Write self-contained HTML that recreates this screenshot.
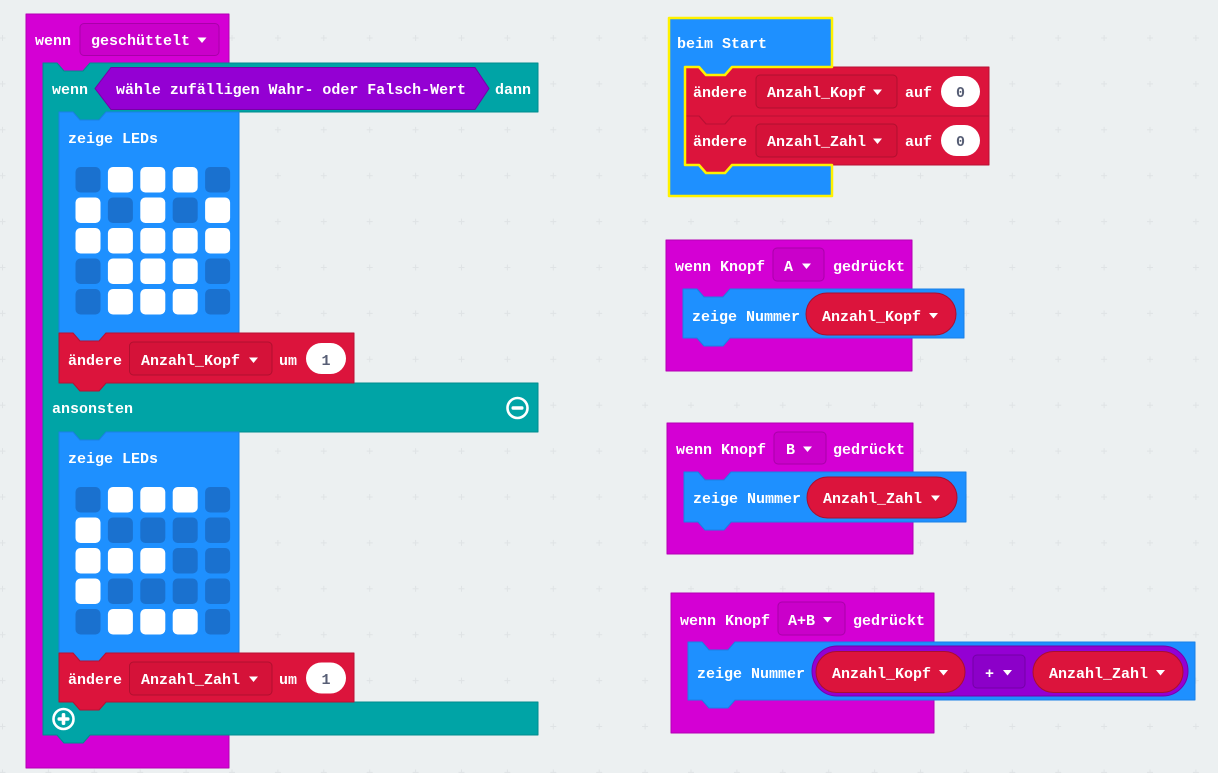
<!DOCTYPE html>
<html><head><meta charset="utf-8"><style>
html,body{margin:0;padding:0;background:#ecf0f1;}
svg{display:block;}
text{font-family:"Liberation Mono",monospace;font-weight:bold;font-size:15px;fill:#fff;}
.d{fill:#575e75;}
</style></head><body>
<svg width="1218" height="773" viewBox="0 0 1218 773" xmlns="http://www.w3.org/2000/svg">
<defs>
<pattern id="g" x="-20.45" y="15.05" width="45.9" height="45.9" patternUnits="userSpaceOnUse">
<path d="M19.95,22.95h6M22.95,19.95v6" stroke="#dfe3e5" stroke-width="1" fill="none"/>
</pattern>
</defs>
<rect width="1218" height="773" fill="#ecf0f1"/>
<rect width="1218" height="773" fill="url(#g)"/>

<!-- ===== LEFT: wenn geschüttelt ===== -->
<path d="M26,14 H229 V63 H90 L83,71 H64 L57,63 H43 V735 H57 L64,743 H83 L90,735 H229 V768 H26 Z" fill="#d400d4" stroke="#b300b3" stroke-width="1" stroke-linejoin="round"/>
<text x="35" y="45">wenn</text>
<rect x="80" y="23.5" width="139" height="32" rx="4" fill="#ca00ca" stroke="#a900a9" stroke-width="1"/>
<text x="91" y="45">geschüttelt</text>
<polygon points="197.5,37.5 206.5,37.5 202,43" fill="#fff"/>

<!-- teal if/else -->
<path d="M43,63 H57 L64,71 H83 L90,63 H538 V112 H106 L99,120 H80 L73,112 H59 V383 H73 L80,391 H99 L106,383 H538 V432 H106 L99,440 H80 L73,432 H59 V702 H73 L80,710 H99 L106,702 H538 V735 H90 L83,743 H64 L57,735 H43 Z" fill="#00a4a6" stroke="#008d8f" stroke-width="1" stroke-linejoin="round"/>
<text x="52" y="94">wenn</text>
<polygon points="95,88.5 111,67.5 475,67.5 489,88.5 475,109.5 111,109.5" fill="#9400d3" stroke="#7500a8" stroke-width="1"/>
<text x="116" y="94" textLength="350" lengthAdjust="spacingAndGlyphs">wähle zufälligen Wahr- oder Falsch-Wert</text>
<text x="495" y="94">dann</text>
<text x="52" y="413">ansonsten</text>
<circle cx="517.5" cy="408" r="10" fill="none" stroke="#fff" stroke-width="2.6"/>
<rect x="511.5" y="406.2" width="12" height="3.6" rx="1.5" fill="#fff"/>
<circle cx="63.5" cy="719" r="10" fill="none" stroke="#fff" stroke-width="2.6"/>
<rect x="57.5" y="717.2" width="12" height="3.6" rx="1.5" fill="#fff"/>
<rect x="61.7" y="713" width="3.6" height="12" rx="1.5" fill="#fff"/>

<!-- blue 1 -->
<path d="M59,112 H73 L80,120 H99 L106,112 H239 V333 H106 L99,341 H80 L73,333 H59 Z" fill="#1e90ff" stroke="#1a80e6" stroke-width="1" stroke-linejoin="round"/>
<text x="68" y="143">zeige LEDs</text>
<g>
<rect x="75.5" y="167" width="25" height="25.5" rx="5" fill="#1a71cf"/>
<rect x="107.9" y="167" width="25" height="25.5" rx="5" fill="#fff"/>
<rect x="140.3" y="167" width="25" height="25.5" rx="5" fill="#fff"/>
<rect x="172.7" y="167" width="25" height="25.5" rx="5" fill="#fff"/>
<rect x="205.1" y="167" width="25" height="25.5" rx="5" fill="#1a71cf"/>

<rect x="75.5" y="197.5" width="25" height="25.5" rx="5" fill="#fff"/>
<rect x="107.9" y="197.5" width="25" height="25.5" rx="5" fill="#1a71cf"/>
<rect x="140.3" y="197.5" width="25" height="25.5" rx="5" fill="#fff"/>
<rect x="172.7" y="197.5" width="25" height="25.5" rx="5" fill="#1a71cf"/>
<rect x="205.1" y="197.5" width="25" height="25.5" rx="5" fill="#fff"/>

<rect x="75.5" y="228" width="25" height="25.5" rx="5" fill="#fff"/>
<rect x="107.9" y="228" width="25" height="25.5" rx="5" fill="#fff"/>
<rect x="140.3" y="228" width="25" height="25.5" rx="5" fill="#fff"/>
<rect x="172.7" y="228" width="25" height="25.5" rx="5" fill="#fff"/>
<rect x="205.1" y="228" width="25" height="25.5" rx="5" fill="#fff"/>

<rect x="75.5" y="258.5" width="25" height="25.5" rx="5" fill="#1a71cf"/>
<rect x="107.9" y="258.5" width="25" height="25.5" rx="5" fill="#fff"/>
<rect x="140.3" y="258.5" width="25" height="25.5" rx="5" fill="#fff"/>
<rect x="172.7" y="258.5" width="25" height="25.5" rx="5" fill="#fff"/>
<rect x="205.1" y="258.5" width="25" height="25.5" rx="5" fill="#1a71cf"/>

<rect x="75.5" y="289" width="25" height="25.5" rx="5" fill="#1a71cf"/>
<rect x="107.9" y="289" width="25" height="25.5" rx="5" fill="#fff"/>
<rect x="140.3" y="289" width="25" height="25.5" rx="5" fill="#fff"/>
<rect x="172.7" y="289" width="25" height="25.5" rx="5" fill="#fff"/>
<rect x="205.1" y="289" width="25" height="25.5" rx="5" fill="#1a71cf"/>
</g>

<!-- red 1 -->
<path d="M59,333 H73 L80,341 H99 L106,333 H354 V383 H106 L99,391 H80 L73,383 H59 Z" fill="#dc143c" stroke="#b81033" stroke-width="1" stroke-linejoin="round"/>
<text x="68" y="365">ändere</text>
<rect x="129.5" y="342" width="142.5" height="33" rx="4" fill="#d51239" stroke="#b0102f" stroke-width="1"/>
<text x="141" y="365">Anzahl_Kopf</text>
<polygon points="249,357.5 258,357.5 253.5,363" fill="#fff"/>
<text x="279" y="365">um</text>
<rect x="306" y="343" width="40" height="31" rx="15.5" fill="#fff"/>
<text class="d" x="326" y="365" text-anchor="middle">1</text>

<!-- blue 2 -->
<path d="M59,432 H73 L80,440 H99 L106,432 H239 V653 H106 L99,661 H80 L73,653 H59 Z" fill="#1e90ff" stroke="#1a80e6" stroke-width="1" stroke-linejoin="round"/>
<text x="68" y="463">zeige LEDs</text>
<g>
<rect x="75.5" y="487" width="25" height="25.5" rx="5" fill="#1a71cf"/>
<rect x="107.9" y="487" width="25" height="25.5" rx="5" fill="#fff"/>
<rect x="140.3" y="487" width="25" height="25.5" rx="5" fill="#fff"/>
<rect x="172.7" y="487" width="25" height="25.5" rx="5" fill="#fff"/>
<rect x="205.1" y="487" width="25" height="25.5" rx="5" fill="#1a71cf"/>

<rect x="75.5" y="517.5" width="25" height="25.5" rx="5" fill="#fff"/>
<rect x="107.9" y="517.5" width="25" height="25.5" rx="5" fill="#1a71cf"/>
<rect x="140.3" y="517.5" width="25" height="25.5" rx="5" fill="#1a71cf"/>
<rect x="172.7" y="517.5" width="25" height="25.5" rx="5" fill="#1a71cf"/>
<rect x="205.1" y="517.5" width="25" height="25.5" rx="5" fill="#1a71cf"/>

<rect x="75.5" y="548" width="25" height="25.5" rx="5" fill="#fff"/>
<rect x="107.9" y="548" width="25" height="25.5" rx="5" fill="#fff"/>
<rect x="140.3" y="548" width="25" height="25.5" rx="5" fill="#fff"/>
<rect x="172.7" y="548" width="25" height="25.5" rx="5" fill="#1a71cf"/>
<rect x="205.1" y="548" width="25" height="25.5" rx="5" fill="#1a71cf"/>

<rect x="75.5" y="578.5" width="25" height="25.5" rx="5" fill="#fff"/>
<rect x="107.9" y="578.5" width="25" height="25.5" rx="5" fill="#1a71cf"/>
<rect x="140.3" y="578.5" width="25" height="25.5" rx="5" fill="#1a71cf"/>
<rect x="172.7" y="578.5" width="25" height="25.5" rx="5" fill="#1a71cf"/>
<rect x="205.1" y="578.5" width="25" height="25.5" rx="5" fill="#1a71cf"/>

<rect x="75.5" y="609" width="25" height="25.5" rx="5" fill="#1a71cf"/>
<rect x="107.9" y="609" width="25" height="25.5" rx="5" fill="#fff"/>
<rect x="140.3" y="609" width="25" height="25.5" rx="5" fill="#fff"/>
<rect x="172.7" y="609" width="25" height="25.5" rx="5" fill="#fff"/>
<rect x="205.1" y="609" width="25" height="25.5" rx="5" fill="#1a71cf"/>
</g>

<!-- red 2 -->
<path d="M59,653 H73 L80,661 H99 L106,653 H354 V702 H106 L99,710 H80 L73,702 H59 Z" fill="#dc143c" stroke="#b81033" stroke-width="1" stroke-linejoin="round"/>
<text x="68" y="684">ändere</text>
<rect x="129.5" y="662" width="142.5" height="33" rx="4" fill="#d51239" stroke="#b0102f" stroke-width="1"/>
<text x="141" y="684">Anzahl_Zahl</text>
<polygon points="249,676.5 258,676.5 253.5,682" fill="#fff"/>
<text x="279" y="684">um</text>
<rect x="306" y="662.5" width="40" height="31" rx="15.5" fill="#fff"/>
<text class="d" x="326" y="684" text-anchor="middle">1</text>

<!-- ===== beim Start ===== -->
<path d="M669,18 H832 V67 H732 L725,75 H706 L699,67 H685 V165 H699 L706,173 H725 L732,165 H832 V196 H669 Z" fill="#1e90ff" stroke="none"/>
<text x="677" y="48">beim Start</text>
<path d="M685,67 H699 L706,75 H725 L732,67 H989 V116 H732 L725,124 H706 L699,116 H685 Z" fill="#dc143c" stroke="#b81033" stroke-width="1" stroke-linejoin="round"/>
<path d="M685,116 H699 L706,124 H725 L732,116 H989 V165 H732 L725,173 H706 L699,165 H685 Z" fill="#dc143c" stroke="#b81033" stroke-width="1" stroke-linejoin="round"/>
<path d="M669,18 H832 V67 H732 L725,75 H706 L699,67 H685 V165 H699 L706,173 H725 L732,165 H832 V196 H669 Z" fill="none" stroke="#fff200" stroke-width="2.5" stroke-linejoin="round"/>
<text x="693" y="97">ändere</text>
<rect x="756" y="75" width="141" height="33" rx="4" fill="#d51239" stroke="#b0102f" stroke-width="1"/>
<text x="767" y="97">Anzahl_Kopf</text>
<polygon points="873,89.5 882,89.5 877.5,95" fill="#fff"/>
<text x="905" y="97">auf</text>
<rect x="941" y="76" width="39" height="31" rx="15.5" fill="#fff"/>
<text class="d" x="960.5" y="97" text-anchor="middle">0</text>
<text x="693" y="146">ändere</text>
<rect x="756" y="124" width="141" height="33" rx="4" fill="#d51239" stroke="#b0102f" stroke-width="1"/>
<text x="767" y="146">Anzahl_Zahl</text>
<polygon points="873,138.5 882,138.5 877.5,144" fill="#fff"/>
<text x="905" y="146">auf</text>
<rect x="941" y="125" width="39" height="31" rx="15.5" fill="#fff"/>
<text class="d" x="960.5" y="146" text-anchor="middle">0</text>

<!-- ===== Knopf A ===== -->
<path d="M666,240 H912 V289 H730 L723,297 H704 L697,289 H683 V338 H697 L704,346 H723 L730,338 H912 V371 H666 Z" fill="#d400d4" stroke="#b300b3" stroke-width="1" stroke-linejoin="round"/>
<text x="675" y="271">wenn Knopf</text>
<rect x="773" y="248" width="51" height="33" rx="4" fill="#ca00ca" stroke="#a900a9" stroke-width="1"/>
<text x="784" y="271">A</text>
<polygon points="802,263.5 811,263.5 806.5,269" fill="#fff"/>
<text x="833" y="271">gedrückt</text>
<path d="M683,289 H697 L704,297 H723 L730,289 H964 V338 H730 L723,346 H704 L697,338 H683 Z" fill="#1e90ff" stroke="#1a80e6" stroke-width="1" stroke-linejoin="round"/>
<text x="692" y="321">zeige Nummer</text>
<rect x="806" y="293" width="150" height="42" rx="21" fill="#dc143c" stroke="#a80f30" stroke-width="1"/>
<text x="822" y="321">Anzahl_Kopf</text>
<polygon points="929,313 938,313 933.5,318.5" fill="#fff"/>

<!-- ===== Knopf B ===== -->
<path d="M667,423 H913 V472 H731 L724,480 H705 L698,472 H684 V522 H698 L705,530 H724 L731,522 H913 V554 H667 Z" fill="#d400d4" stroke="#b300b3" stroke-width="1" stroke-linejoin="round"/>
<text x="676" y="454">wenn Knopf</text>
<rect x="774" y="432" width="52" height="32" rx="4" fill="#ca00ca" stroke="#a900a9" stroke-width="1"/>
<text x="786" y="454">B</text>
<polygon points="803,446.5 812,446.5 807.5,452" fill="#fff"/>
<text x="833" y="454">gedrückt</text>
<path d="M684,472 H698 L705,480 H724 L731,472 H966 V522 H731 L724,530 H705 L698,522 H684 Z" fill="#1e90ff" stroke="#1a80e6" stroke-width="1" stroke-linejoin="round"/>
<text x="693" y="503">zeige Nummer</text>
<rect x="807" y="477" width="150" height="41" rx="20.5" fill="#dc143c" stroke="#a80f30" stroke-width="1"/>
<text x="823" y="503">Anzahl_Zahl</text>
<polygon points="931,495.5 940,495.5 935.5,501" fill="#fff"/>

<!-- ===== Knopf A+B ===== -->
<path d="M671,593 H934 V642 H735 L728,650 H709 L702,642 H688 V700 H702 L709,708 H728 L735,700 H934 V733 H671 Z" fill="#d400d4" stroke="#b300b3" stroke-width="1" stroke-linejoin="round"/>
<text x="680" y="625">wenn Knopf</text>
<rect x="778" y="602" width="67" height="33" rx="4" fill="#ca00ca" stroke="#a900a9" stroke-width="1"/>
<text x="788" y="625">A+B</text>
<polygon points="823,617 832,617 827.5,622.5" fill="#fff"/>
<text x="853" y="625">gedrückt</text>
<path d="M688,642 H702 L709,650 H728 L735,642 H1195 V700 H735 L728,708 H709 L702,700 H688 Z" fill="#1e90ff" stroke="#1a80e6" stroke-width="1" stroke-linejoin="round"/>
<text x="697" y="678">zeige Nummer</text>
<rect x="812" y="646" width="376" height="50" rx="25" fill="#9400d3" stroke="#7600aa" stroke-width="1"/>
<rect x="816" y="651.5" width="149" height="41" rx="20.5" fill="#dc143c" stroke="#a80f30" stroke-width="1"/>
<text x="832" y="678">Anzahl_Kopf</text>
<polygon points="939,670 948,670 943.5,675.5" fill="#fff"/>
<rect x="973" y="655" width="52" height="33" rx="4" fill="#8c00c9" stroke="#7300a6" stroke-width="1"/>
<text x="985" y="678">+</text>
<polygon points="1003,670 1012,670 1007.5,675.5" fill="#fff"/>
<rect x="1033" y="651.5" width="150" height="41" rx="20.5" fill="#dc143c" stroke="#a80f30" stroke-width="1"/>
<text x="1049" y="678">Anzahl_Zahl</text>
<polygon points="1156,670 1165,670 1160.5,675.5" fill="#fff"/>
</svg>
</body></html>
